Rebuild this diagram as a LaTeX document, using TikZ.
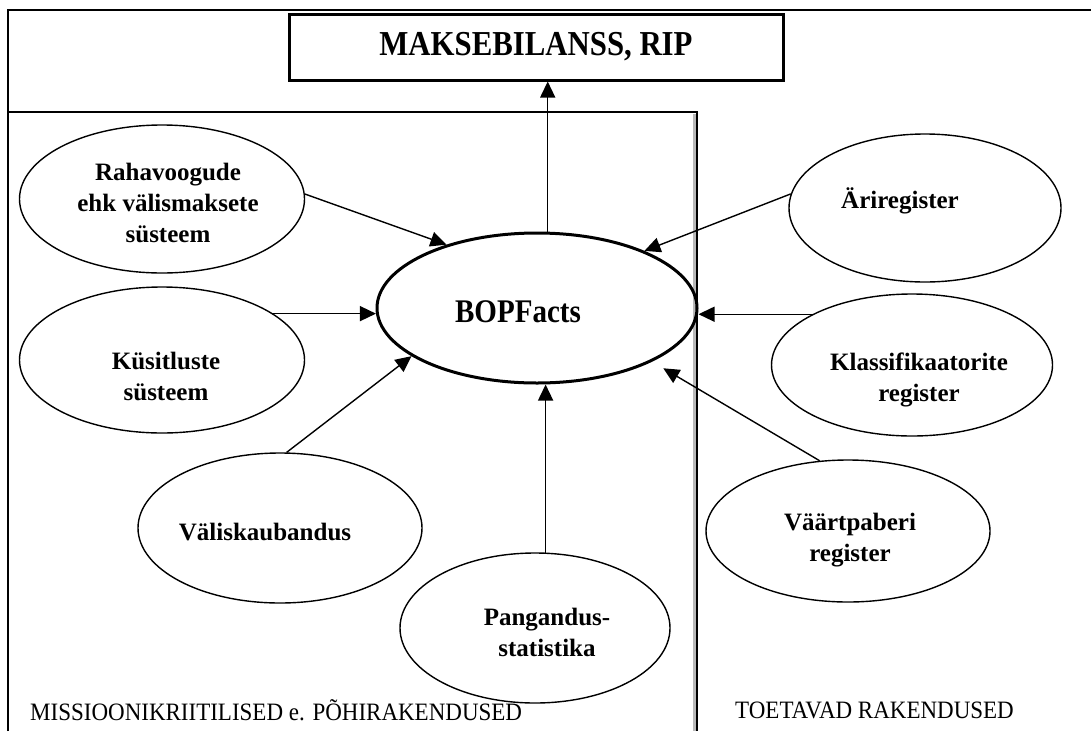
\documentclass[tikz,border=0pt]{standalone}
\usepackage{fontspec}
\setmainfont{Liberation Serif}
\newfontfamily\narrowA[FakeStretch=0.88]{Liberation Serif}
\newfontfamily\narrowB[FakeStretch=0.92]{Liberation Serif}
\usetikzlibrary{shapes.geometric,arrows.meta}
\tikzset{
 ell/.style={draw,ellipse,line width=1.4pt,inner sep=0pt},
 mainell/.style={draw,ellipse,line width=3pt,inner sep=0pt},
 lbl/.style={font=\fontsize{25}{31}\selectfont\bfseries,align=center,inner sep=0pt},
 biglbl/.style={font=\narrowA\fontsize{35}{40}\selectfont\bfseries,inner sep=0pt},
 arr/.style={line width=1.4pt,-{Triangle[length=16pt,width=15pt]}},
 caption/.style={font=\narrowB\fontsize{25}{30}\selectfont,anchor=base west,inner sep=0pt},
}
\begin{document}
\begin{tikzpicture}[x=1pt,y=-1pt]
\useasboundingbox (0,0) rectangle (1091,731);
% frames
\draw[line width=2pt] (8,731) -- (8,10) -- (1091,10);
\draw[gray!55,line width=2.5pt] (694.5,114) -- (694.5,731);
\draw[line width=1.6pt] (8,112) -- (697,112) -- (697,731);
% top box
\node[draw,line width=3pt,minimum width=494pt,minimum height=66pt,inner sep=0pt,biglbl] (mak) at (536,47) {MAKSEBILANSS, RIP};
% ellipses
\node[ell,minimum width=285pt,minimum height=148pt] (rah) at (162,199) {};
\node[lbl] (rahl) at (168,203) {Rahavoogude\\ehk välismaksete\\süsteem};
\node[ell,minimum width=285pt,minimum height=146pt] (kus) at (162,360) {};
\node[lbl] (kusl) at (166,376) {Küsitluste\\süsteem};
\node[ell,minimum width=284pt,minimum height=150pt] (val) at (280,528) {};
\node[lbl] (vall) at (265,532) {Väliskaubandus};
\node[ell,minimum width=270pt,minimum height=150pt] (pan) at (535,628) {};
\node[lbl] (panl) at (547,632) {Pangandus-\\statistika};
\node[mainell,minimum width=320pt,minimum height=150pt] (bop) at (537,308) {};
\node[biglbl,font=\narrowA\fontsize{33}{38}\selectfont\bfseries] (bopl) at (518,312) {BOPFacts};
\node[ell,minimum width=272pt,minimum height=148pt] (ari) at (925,208) {};
\node[lbl] (aril) at (900,201) {Äriregister};
\node[ell,minimum width=281pt,minimum height=142pt] (kla) at (912,365) {};
\node[lbl] (klal) at (919,380) {Klassifikaatorite\\register};
\node[ell,minimum width=284pt,minimum height=142pt] (vaa) at (848,531) {};
\node[lbl] (vaal) at (850,540) {Väärtpaberi\\register};
% captions
\node[caption] (cap1) at (30,720) {MISSIOONIKRIITILISED e. PÕHIRAKENDUSED};
\node[caption] (cap2) at (735,718) {TOETAVAD RAKENDUSED};
% arrows
\draw[arr] (rah.2) -- (bop.145);
\draw[arr] (bop.182 -| kus.23) -- (bop.182);
\draw[arr] (val.85) -- (bop.201);
\draw[arr] (pan.82) -- (pan.82 |- bop.south);
\draw[arr] (bop.82) -- (bop.82 |- mak.south);
\draw[arr] (ari.174) -- (bop.28);
\draw[arr] (kla.153) -- (kla.153 -| bop.east);
\draw[arr,shorten >=13pt] (vaa.112) -- (bop.-25);
\end{tikzpicture}
\end{document}
